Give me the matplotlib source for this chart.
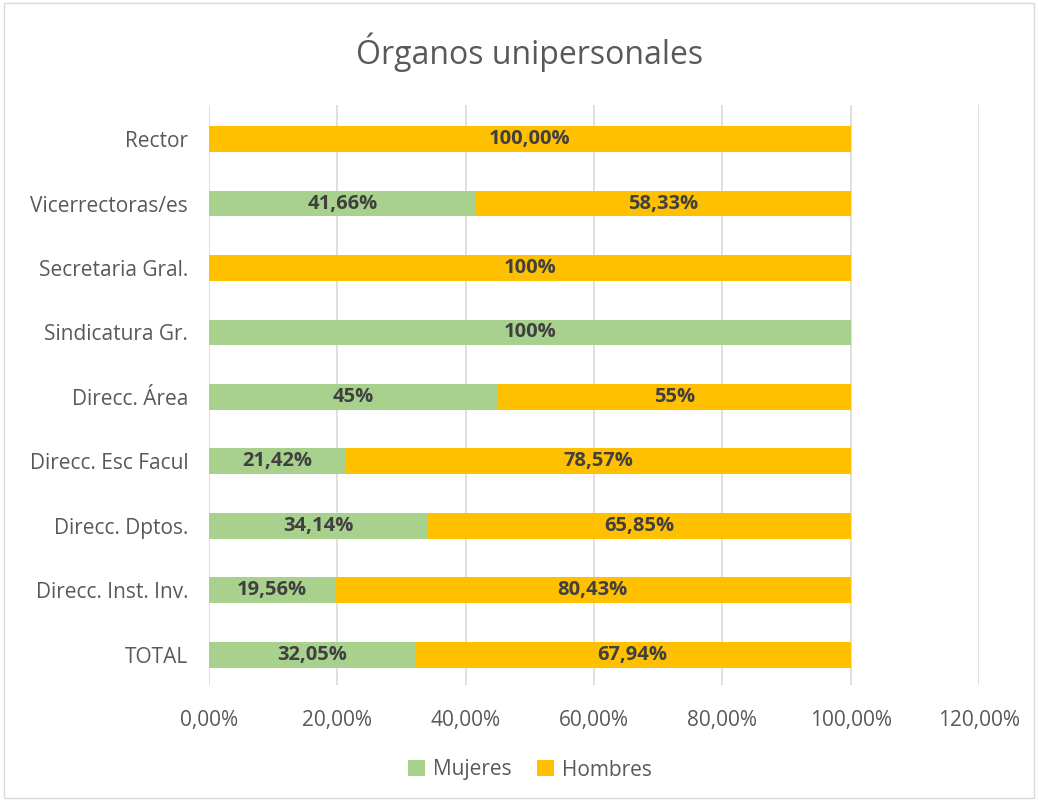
import matplotlib.pyplot as plt
from matplotlib.patches import Rectangle

categories = ["Rector", "Vicerrectoras/es", "Secretaria Gral.", "Sindicatura Gr.",
              "Direcc. Área", "Direcc. Esc Facul", "Direcc. Dptos.",
              "Direcc. Inst. Inv.", "TOTAL"]
mujeres = [0, 41.66, 0, 100, 45, 21.42, 34.14, 19.56, 32.05]
hombres = [100, 58.33, 100, 0, 55, 78.57, 65.85, 80.43, 67.94]
mujeres_labels = ["", "41,66%", "", "100%", "45%", "21,42%", "34,14%", "19,56%", "32,05%"]
hombres_labels = ["100,00%", "58,33%", "100%", "", "55%", "78,57%", "65,85%", "80,43%", "67,94%"]
xticks = [0, 20, 40, 60, 80, 100, 120]

green = "#A9D18E"
orange = "#FFC000"
text_gray = "#595959"
label_gray = "#404040"

plt.rcParams["font.family"] = ["Open Sans", "DejaVu Sans"]

fig = plt.figure(figsize=(10.38, 8.01), dpi=100)
fig.patches.append(Rectangle((0.004, 0.004), 0.992, 0.992, transform=fig.transFigure,
                             fill=False, edgecolor="#D9D9D9", linewidth=1))
ax = fig.add_axes([209 / 1038, 1 - 685 / 801, (979 - 209) / 1038, (685 - 105) / 801])

ypos = list(range(len(categories)))
ax.barh([y + 0.03 for y in ypos], mujeres, height=0.4, color=green, label="Mujeres")
ax.barh([y + 0.03 for y in ypos], hombres, left=mujeres, height=0.4, color=orange, label="Hombres")

for i in ypos:
    if mujeres_labels[i]:
        ax.text(mujeres[i] / 2, i + 0.03, mujeres_labels[i], ha="center", va="center",
                fontsize=14.5, fontweight="bold", color=label_gray)
    if hombres_labels[i]:
        ax.text(mujeres[i] + hombres[i] / 2, i + 0.03, hombres_labels[i], ha="center", va="center",
                fontsize=14.5, fontweight="bold", color=label_gray)

ax.set_xlim(0, 120)
ax.set_ylim(len(categories) - 0.5, -0.5)
ax.set_xticks(xticks)
ax.set_xticklabels([f"{v:.2f}".replace(".", ",") + "%" for v in xticks])
ax.set_yticks([y + 0.03 for y in ypos])
ax.set_yticklabels(categories)
ax.tick_params(axis="both", length=0, labelsize=15, colors=text_gray)
ax.tick_params(axis="x", pad=18)
ax.tick_params(axis="y", pad=15)
ax.grid(axis="x", color="#D9D9D9", linewidth=1.2)
ax.set_axisbelow(True)
for s in ax.spines.values():
    s.set_visible(False)

fig.text(530 / 1038, 1 - 52 / 801, "Órganos unipersonales", ha="center", va="center",
         fontsize=23, color=text_gray)

fig.legend(loc="center", bbox_to_anchor=(530 / 1038, 1 - 770 / 801), ncol=2,
           frameon=False, fontsize=15, labelcolor=text_gray, handlelength=0.8,
           handleheight=0.8, columnspacing=1.2, handletextpad=0.4)

fig.savefig("out.png", dpi=100)
